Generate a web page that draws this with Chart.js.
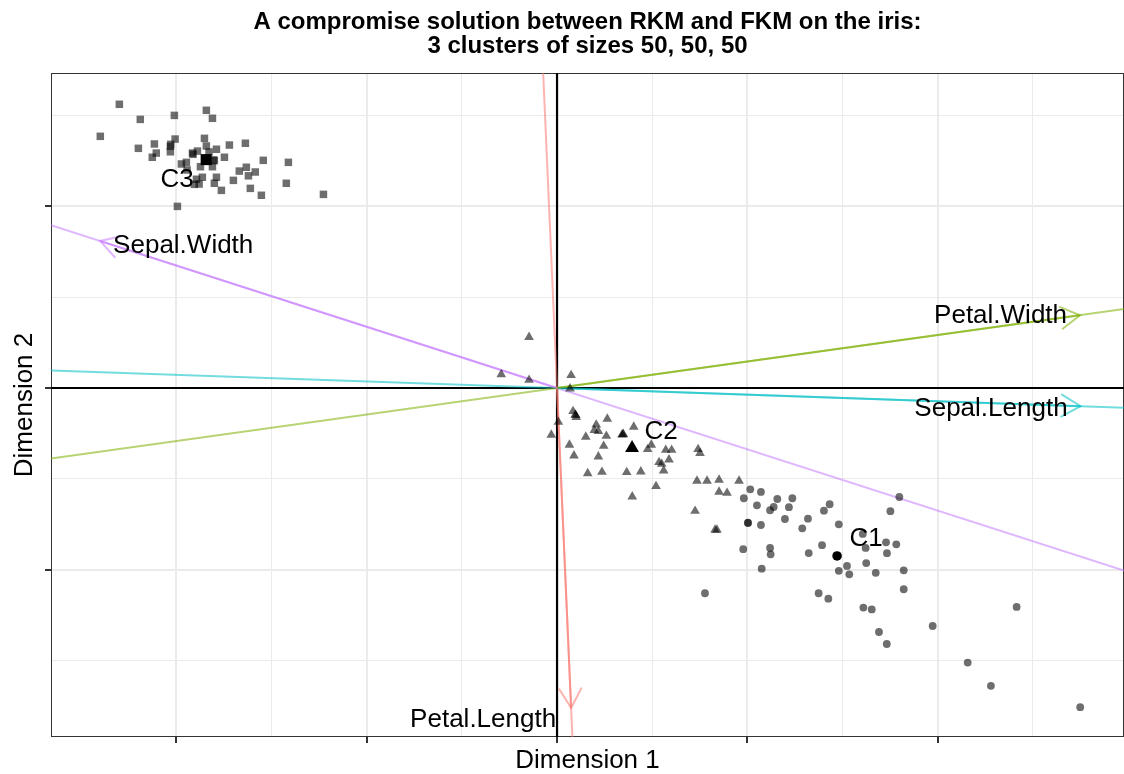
<!DOCTYPE html>
<html lang="en">
<head>
  <meta charset="UTF-8" />
  <title>RKM / FKM compromise on iris</title>
  <script src="https://cdn.jsdelivr.net/npm/chart.js"></script>
  <style>
    html, body { margin: 0; padding: 0; background: #fff; }
    #wrap { width: 1124px; height: 774px; }
  </style>
</head>
<body>
  <div id="wrap"><canvas id="biplot"></canvas></div>
  <script>
    // cluster members (dimension 1, dimension 2)
    const cluster1 = [
      [1.015, -0.557], [1.071, -0.571], [0.981, -0.606], [1.157, -0.610], [1.236, -0.606],
      [1.050, -0.645], [1.138, -0.654], [1.119, -0.672], [1.218, -0.655], [1.432, -0.639],
      [1.402, -0.674], [1.798, -0.599], [1.751, -0.677], [1.003, -0.740], [1.003, -0.742],
      [1.071, -0.753], [1.197, -0.720], [1.318, -0.718], [1.288, -0.771], [1.480, -0.749],
      [0.978, -0.886], [1.119, -0.879], [1.122, -0.914], [1.322, -0.907], [1.392, -0.864],
      [1.621, -0.879], [1.728, -0.848], [1.782, -0.859], [1.733, -0.908], [1.624, -0.962],
      [1.523, -0.978], [1.480, -1.005], [1.535, -1.024], [1.674, -1.016], [1.821, -1.002],
      [1.075, -0.993], [1.821, -1.106], [0.777, -1.128], [1.374, -1.128], [1.425, -1.158],
      [1.609, -1.207], [1.653, -1.217], [1.691, -1.341], [1.732, -1.407], [1.973, -1.308],
      [2.414, -1.203], [2.157, -1.509], [2.279, -1.637], [2.748, -1.754], [1.606, -0.802]
    ];
    const cluster2 = [
      [-0.147, 0.279], [-0.293, 0.075], [-0.147, 0.044], [0.074, 0.070], [0.068, -0.004],
      [0.084, -0.128], [0.096, -0.147], [0.101, -0.161], [0.007, -0.187], [-0.030, -0.258],
      [0.264, -0.170], [0.206, -0.202], [0.196, -0.232], [0.217, -0.238], [0.151, -0.269],
      [0.259, -0.264], [0.065, -0.313], [0.089, -0.372], [0.245, -0.319], [0.217, -0.377],
      [0.341, -0.257], [0.348, -0.254], [0.403, -0.214], [0.476, -0.337], [0.495, -0.313],
      [0.571, -0.341], [0.602, -0.341], [0.588, -0.394], [0.536, -0.408], [0.550, -0.418],
      [0.560, -0.454], [0.161, -0.469], [0.236, -0.462], [0.366, -0.463], [0.440, -0.460],
      [0.520, -0.540], [0.395, -0.597], [0.741, -0.337], [0.751, -0.359], [0.735, -0.511],
      [0.788, -0.511], [0.851, -0.505], [0.956, -0.511], [0.851, -0.571], [0.893, -0.577],
      [0.725, -0.676], [0.830, -0.780], [0.840, -0.780], [0.098, -0.150], [0.346, -0.256]
    ];
    const cluster3 = [
      [-2.299, 1.559], [-2.189, 1.476], [-2.010, 1.498], [-1.842, 1.526], [-1.810, 1.482],
      [-2.399, 1.383], [-2.199, 1.317], [-2.115, 1.341], [-2.105, 1.291], [-2.126, 1.268],
      [-2.029, 1.339], [-2.031, 1.328], [-2.031, 1.298], [-1.852, 1.372], [-1.842, 1.330],
      [-1.789, 1.312], [-1.721, 1.335], [-1.637, 1.345], [-1.915, 1.291], [-1.889, 1.302],
      [-1.912, 1.284], [-1.747, 1.268], [-1.800, 1.249], [-1.810, 1.216], [-1.973, 1.231],
      [-1.947, 1.240], [-1.873, 1.216], [-1.543, 1.251], [-1.411, 1.240], [-1.669, 1.192],
      [-1.632, 1.213], [-1.621, 1.166], [-1.585, 1.187], [-1.700, 1.141], [-1.789, 1.158],
      [-1.800, 1.125], [-1.763, 1.086], [-1.863, 1.158], [-1.894, 1.147], [-1.905, 1.119],
      [-1.611, 1.097], [-1.553, 1.059], [-1.422, 1.125], [-1.227, 1.064], [-1.994, 0.998],
      [-1.804, 1.254], [-1.943, 1.198], [-1.880, 1.121], [-2.006, 1.368], [-1.828, 1.297]
    ];

    const centroidNames = ['C1', 'C2', 'C3'];
    const centroidX = [1.471, 0.394, -1.843];
    const centroidY = [-0.923, -0.330, 1.255];

    const varNames = ['Petal.Length', 'Petal.Width', 'Sepal.Length', 'Sepal.Width'];
    const varTipX = [0.074, 2.747, 2.750, -2.400];
    const varTipY = [-1.758, 0.400, -0.100, 0.808];
    const varColors = ['248,118,109', '124,174,0', '0,191,196', '199,124,255'];

    const xRange = [-2.658, 2.978];
    const yRange = [-1.918, 1.731];

    // label placement in pixels, relative to the arrow tip / centroid
    const varLabelPos = [
      { align: 'right', dx: -15, dy: 12 },
      { align: 'right', dx: -13, dy: 1 },
      { align: 'right', dx: -13, dy: 3 },
      { align: 'left', dx: 13, dy: 5 }
    ];
    const centroidLabelPos = [
      { dx: 29, dy: -17 },
      { dx: 29, dy: -16 },
      { dx: -29, dy: 20 }
    ];

    const FONT = "'Liberation Sans', Arial, Helvetica, sans-serif";
    const pts = a => a.map(p => ({ x: p[0], y: p[1] }));
    const isMult = (v, s) => Math.abs(v / s - Math.round(v / s)) < 1e-6;

    // line through the origin along a variable, clipped to the panel
    function fullLine(tx, ty) {
      if (Math.abs(tx) > Math.abs(ty)) {
        const s = ty / tx;
        return [{ x: xRange[0], y: s * xRange[0] }, { x: xRange[1], y: s * xRange[1] }];
      }
      const s = tx / ty;
      return [{ x: s * yRange[0], y: yRange[0] }, { x: s * yRange[1], y: yRange[1] }];
    }

    const datasets = [];
    datasets.push({
      label: 'centroids', showLine: false, order: 0,
      data: centroidX.map((x, i) => ({ x, y: centroidY[i] })),
      pointStyle: ['circle', 'triangle', 'rect'],
      pointRadius: [4.8, 8, 7.8],
      backgroundColor: '#000', borderWidth: 0
    });
    [[cluster1, 'circle', 3.9], [cluster2, 'triangle', 5.6], [cluster3, 'rect', 5.3]].forEach(([c, shape, r], i) => {
      datasets.push({
        label: 'cluster ' + (i + 1), showLine: false, order: 1,
        data: pts(c), pointStyle: shape, pointRadius: r,
        backgroundColor: 'rgba(0,0,0,0.57)', borderWidth: 0
      });
    });
    varNames.forEach((n, i) => {
      const col = varColors[i];
      datasets.push({
        label: n + ' arrow', showLine: true, order: 2, pointRadius: 0,
        data: [{ x: 0, y: 0 }, { x: varTipX[i], y: varTipY[i] }],
        borderColor: 'rgba(' + col + ',0.55)', borderWidth: 2
      });
      datasets.push({
        label: n + ' axis', showLine: true, order: 3, pointRadius: 0,
        data: fullLine(varTipX[i], varTipY[i]),
        borderColor: 'rgba(' + col + ',0.55)', borderWidth: 2
      });
    });
    // reference lines through the origin
    datasets.push({ label: 'h0', showLine: true, order: 4, pointRadius: 0,
      data: [{ x: xRange[0], y: 0 }, { x: xRange[1], y: 0 }], borderColor: '#000', borderWidth: 2.2 });
    datasets.push({ label: 'v0', showLine: true, order: 4, pointRadius: 0,
      data: [{ x: 0, y: yRange[0] }, { x: 0, y: yRange[1] }], borderColor: '#000', borderWidth: 2.2 });

    const decorations = {
      id: 'decorations',
      beforeDatasetsDraw(chart) {
        const { ctx, chartArea: a } = chart;
        ctx.save();
        ctx.strokeStyle = '#333';
        ctx.lineWidth = 1;
        ctx.strokeRect(a.left + 0.5, a.top + 0.5, a.right - a.left - 1, a.bottom - a.top - 1);
        ctx.restore();
      },
      afterDatasetsDraw(chart) {
        const { ctx, scales: { x, y } } = chart;
        const ox = x.getPixelForValue(0), oy = y.getPixelForValue(0);
        ctx.save();
        ctx.lineCap = 'round';
        varNames.forEach((n, i) => {
          const px = x.getPixelForValue(varTipX[i]), py = y.getPixelForValue(varTipY[i]);
          const ang = Math.atan2(py - oy, px - ox);
          const len = 22, spread = Math.PI / 6;
          ctx.strokeStyle = 'rgba(' + varColors[i] + ',0.55)';
          ctx.lineWidth = 2;
          ctx.beginPath();
          ctx.moveTo(px - len * Math.cos(ang - spread), py - len * Math.sin(ang - spread));
          ctx.lineTo(px, py);
          ctx.lineTo(px - len * Math.cos(ang + spread), py - len * Math.sin(ang + spread));
          ctx.stroke();
          const lp = varLabelPos[i];
          ctx.fillStyle = '#000';
          ctx.font = '26px ' + FONT;
          ctx.textAlign = lp.align;
          ctx.textBaseline = 'middle';
          ctx.fillText(n, px + lp.dx, py + lp.dy);
        });
        centroidNames.forEach((n, i) => {
          const lp = centroidLabelPos[i];
          ctx.fillStyle = '#000';
          ctx.font = '26px ' + FONT;
          ctx.textAlign = 'center';
          ctx.textBaseline = 'middle';
          ctx.fillText(n, x.getPixelForValue(centroidX[i]) + lp.dx, y.getPixelForValue(centroidY[i]) + lp.dy);
        });
        ctx.restore();
      }
    };

    const axisCommon = {
      type: 'linear',
      ticks: { display: false, stepSize: 0.5 },
      border: { display: false },
      grid: {
        color: c => isMult(c.tick.value, 0.5) ? '#ebebeb' : 'rgba(0,0,0,0)',
        lineWidth: c => isMult(c.tick.value, 1) ? 2 : 1,
        tickColor: c => isMult(c.tick.value, 1) ? '#333' : 'rgba(0,0,0,0)',
        tickWidth: 2,
        tickLength: 6
      }
    };

    new Chart(document.getElementById('biplot'), {
      type: 'scatter',
      data: { datasets },
      plugins: [decorations],
      options: {
        responsive: true,
        maintainAspectRatio: false,
        animation: false,
        layout: { autoPadding: false, padding: { left: 9, right: 0, top: 0, bottom: 0 } },
        plugins: {
          legend: { display: false },
          tooltip: { enabled: false },
          title: {
            display: true,
            fullSize: false,
            text: ['A compromise solution between RKM and FKM on the iris:', '3 clusters of sizes 50, 50, 50'],
            color: '#000',
            font: { family: FONT, size: 24, weight: 'bold', lineHeight: 1.0 },
            padding: { top: 10, bottom: 15 }
          }
        },
        scales: {
          x: Object.assign({}, axisCommon, {
            min: xRange[0], max: xRange[1],
            title: { display: true, text: 'Dimension 1', color: '#000',
              font: { family: FONT, size: 26, lineHeight: 1.0 }, padding: { top: 5, bottom: 0 } }
          }),
          y: Object.assign({}, axisCommon, {
            min: yRange[0], max: yRange[1],
            title: { display: true, text: 'Dimension 2', color: '#000',
              font: { family: FONT, size: 26, lineHeight: 1.0 }, padding: { top: 3, bottom: 7 } }
          })
        }
      }
    });
  </script>
</body>
</html>
